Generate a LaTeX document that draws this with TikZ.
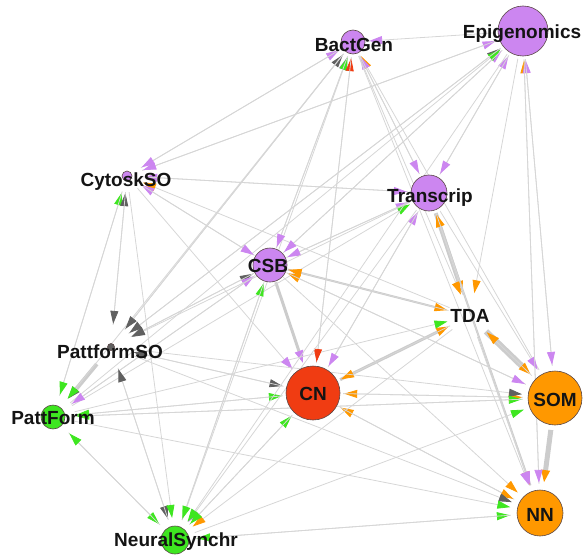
\documentclass[tikz,border=0pt]{standalone}
\usepackage{fontspec}
\setmainfont{Liberation Sans}
\usetikzlibrary{arrows.meta, backgrounds}

\definecolor{purp}{RGB}{204,134,240}
\definecolor{grn}{RGB}{62,230,32}
\definecolor{org}{RGB}{255,152,0}
\definecolor{rd}{RGB}{240,60,18}
\definecolor{gry}{RGB}{96,96,96}
\definecolor{rimc}{RGB}{90,70,70}
\definecolor{linec}{RGB}{214,214,214}
\definecolor{thickc}{RGB}{204,204,204}

\begin{document}
\begin{tikzpicture}[
    x=1pt, y=-1pt,
    every node/.style={font=\fontsize{19}{19}\selectfont\bfseries, text=black!92},
    hub/.style={circle, minimum size=#1, inner sep=0pt},
    ball/.style={circle, draw=rimc, line width=0.6pt, fill=#1, inner sep=0pt},
    nodetext/.style={inner sep=0pt},
    link/.style={draw=linec, line width=0.8pt, shorten >=1pt},
    heavy/.style={draw=thickc, line width=#1},
    toP/.style={-{Triangle[length=13pt, width=8pt, color=purp]}},
    toG/.style={-{Triangle[length=13pt, width=8pt, color=grn]}},
    toO/.style={-{Triangle[length=13pt, width=8pt, color=org]}},
    toR/.style={-{Triangle[length=13pt, width=8pt, color=rd]}},
    toK/.style={-{Triangle[length=13pt, width=8pt, color=gry]}}
]
    \useasboundingbox (0,0) rectangle (583,554);

    % ---- hubs (edge ends) ----
    \node[hub=30pt] (bact)  at (353,42)  {};
    \node[hub=56pt] (epi)   at (523,31)  {};
    \node[hub=32pt] (cyto)  at (127,176) {};
    \node[hub=42pt] (trans) at (429,193) {};
    \node[hub=36pt] (csb)   at (270,265) {};
    \node[hub=44pt] (tda)   at (470,316) {};
    \node[hub=44pt] (pso)   at (111,347) {};
    \node[hub=60pt] (cn)    at (313,393) {};
    \node[hub=64pt] (som)   at (555,398) {};
    \node[hub=44pt] (pform) at (53,417)  {};
    \node[hub=58pt] (nn)    at (540,513) {};
    \node[hub=42pt] (nsyn)  at (175,540) {};

    % ---- circles ----
    \node[ball=purp, minimum size=24pt] (bact-dot)  at (353,42)  {};
    \node[ball=purp, minimum size=50pt] (epi-dot)   at (523,31)  {};
    \node[ball=purp, minimum size=10pt] (cyto-dot)  at (127,176) {};
    \node[ball=purp, minimum size=36pt] (trans-dot) at (429,193) {};
    \node[ball=purp, minimum size=34pt] (csb-dot)   at (270,265) {};
    \node[ball=gry,  minimum size=7pt]  (pso-dot)   at (111,347) {};
    \node[ball=rd,   minimum size=54pt] (cn-dot)    at (313,393) {};
    \node[ball=org,  minimum size=54pt] (som-dot)   at (555,398) {};
    \node[ball=grn,  minimum size=24pt] (pform-dot) at (53,417)  {};
    \node[ball=org,  minimum size=46pt] (nn-dot)    at (540,513) {};
    \node[ball=grn,  minimum size=28pt] (nsyn-dot)  at (175,540) {};

    % ---- labels ----
    \node[nodetext] (bact-txt)  at (354,45)  {BactGen};
    \node[nodetext] (epi-txt)   at (522,34)  {Epigenomics};
    \node[nodetext] (cyto-txt)  at (126,182) {CytoskSO};
    \node[nodetext] (trans-txt) at (430,198) {Transcrip};
    \node[nodetext] (csb-txt)   at (268,266) {CSB};
    \node[nodetext] (tda-txt)   at (470,316) {TDA};
    \node[nodetext] (pso-txt)   at (110,352) {PattformSO};
    \node[nodetext] (cn-txt)    at (313,394) {CN};
    \node[nodetext] (som-txt)   at (555,400) {SOM};
    \node[nodetext] (pform-txt) at (53,418)  {PattForm};
    \node[nodetext] (nn-txt)    at (540,515) {NN};
    \node[nodetext] (nsyn-txt)  at (176,542) {NeuralSynchr};

    \begin{scope}[on background layer]
    % ---- heavy links ----
    \draw[link, heavy=6pt, toO] (tda) -- (som);
    \draw[link, heavy=4pt, toO] (trans) -- (tda);
    \draw[link, heavy=5pt, toO] (som) -- (nn);
    \draw[link, heavy=4pt, toK] (pso) -- (pform);
    \draw[link, heavy=3pt, toP] (csb) -- (cn);
    \draw[link, heavy=3pt, toO] (cn) -- (tda);
    \draw[link, heavy=2pt, toO] (csb) -- (tda);
    \draw[link, heavy=2pt, toO] (nn) -- (trans);

    % ---- into BactGen ----
    \draw[link, toP] (cyto) -- (bact);
    \draw[link, toP] (csb) -- (bact);
    \draw[link, toK] (pso) -- (bact);
    \draw[link, toG] (nsyn) -- (bact);
    \draw[link, toR] (cn) -- (bact);
    \draw[link, toO] (som) -- (bact);
    \draw[link, toP] (trans) -- (bact);
    \draw[link, toP] (epi) -- (bact);

    % ---- into Epigenomics ----
    \draw[link, toP] (cyto) -- (epi);
    \draw[link, toP] (csb) -- (epi);
    \draw[link, toK] (pso) -- (epi);
    \draw[link, toG] (pform) -- (epi);
    \draw[link, toO] (nn) -- (epi);
    \draw[link, toP] (trans) -- (epi);
    \draw[link, toP] (som) -- (epi);

    % ---- into CytoskSO ----
    \draw[link, toP] (bact) -- (cyto);
    \draw[link, toP] (epi) -- (cyto);
    \draw[link, toO] (tda) -- (cyto);
    \draw[link, toG] (pform) -- (cyto);
    \draw[link, toK] (pso) -- (cyto);
    \draw[link, toP] (csb) -- (cyto);
    \draw[link, toP] (trans) -- (cyto);

    % ---- into Transcrip ----
    \draw[link, toP] (bact) -- (trans);
    \draw[link, toP] (epi) -- (trans);
    \draw[link, toP] (cyto) -- (trans);
    \draw[link, toP] (csb) -- (trans);
    \draw[link, toG] (pform) -- (trans);
    \draw[link, toO] (tda) -- (trans);
    \draw[link, toP] (cn) -- (trans);

    % ---- into CSB ----
    \draw[link, toP] (bact) -- (csb);
    \draw[link, toP] (epi) -- (csb);
    \draw[link, toP] (trans) -- (csb);
    \draw[link, toP] (cyto) -- (csb);
    \draw[link, toO] (tda) -- (csb);
    \draw[link, toO] (som) -- (csb);
    \draw[link, toK] (pso) -- (csb);
    \draw[link, toG] (nsyn) -- (csb);
    \draw[link, toP] (pform) -- (csb);

    % ---- into TDA ----
    \draw[link, toO] (bact) -- (tda);
    \draw[link, toG] (pform) -- (tda);
    \draw[link, toO] (som) -- (tda);
    \draw[link, toO] (epi) -- (tda);

    % ---- into CN ----
    \draw[link, toP] (trans) -- (cn);
    \draw[link, toR] (bact) -- (cn);
    \draw[link, toP] (cyto) -- (cn);
    \draw[link, toO] (tda) -- (cn);
    \draw[link, toO] (som) -- (cn);
    \draw[link, toO] (nn) -- (cn);
    \draw[link, toK] (pso) -- (cn);
    \draw[link, toG] (pform) -- (cn);
    \draw[link, toG] (nsyn) -- (cn);

    % ---- into SOM ----
    \draw[link, toP] (trans) -- (som);
    \draw[link, toP] (epi) -- (som);
    \draw[link, toP] (csb) -- (som);
    \draw[link, toO] (cn) -- (som);
    \draw[link, toK] (pso) -- (som);
    \draw[link, toG] (pform) -- (som);
    \draw[link, toG] (nsyn) -- (som);

    % ---- into NN ----
    \draw[link, toO] (tda) -- (nn);
    \draw[link, toP] (trans) -- (nn);
    \draw[link, toP] (epi) -- (nn);
    \draw[link, toO] (csb) -- (nn);
    \draw[link, toO] (cn) -- (nn);
    \draw[link, toP] (bact) -- (nn);
    \draw[link, toK] (pso) -- (nn);
    \draw[link, toG] (pform) -- (nn);
    \draw[link, toG] (nsyn) -- (nn);

    % ---- into NeuralSynchr ----
    \draw[link, toG] (pform) -- (nsyn);
    \draw[link, toK] (pso) -- (nsyn);
    \draw[link, toG] (cyto) -- (nsyn);
    \draw[link, toG] (csb) -- (nsyn);
    \draw[link, toP] (trans) -- (nsyn);
    \draw[link, toO] (tda) -- (nsyn);
    \draw[link, toG] (cn) -- (nsyn);
    \draw[link, toG] (epi) -- (nsyn);
    \draw[link, toG] (nn) -- (nsyn);

    % ---- into PattForm ----
    \draw[link, toG] (cyto) -- (pform);
    \draw[link, toP] (csb) -- (pform);
    \draw[link, toG] (bact) -- (pform);
    \draw[link, toG] (cn) -- (pform);
    \draw[link, toG] (som) -- (pform);
    \draw[link, toG] (nsyn) -- (pform);

    % ---- into PattformSO ----
    \draw[link, toK] (cyto) -- (pso);
    \draw[link, toK] (csb) -- (pso);
    \draw[link, toK] (trans) -- (pso);
    \draw[link, toK] (bact) -- (pso);
    \draw[link, toK] (epi) -- (pso);
    \draw[link, toK] (cn) -- (pso);
    \draw[link, toK] (nsyn) -- (pso);
    \end{scope}

\end{tikzpicture}
\end{document}
